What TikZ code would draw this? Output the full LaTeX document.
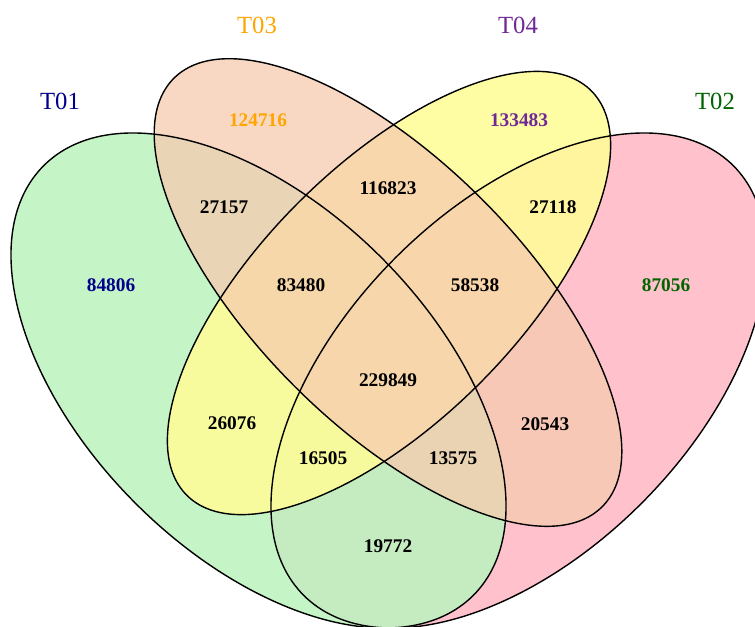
\documentclass[tikz,border=0pt]{standalone}
\usepackage{fontspec}
\setmainfont{Liberation Serif}
\definecolor{cOne}{RGB}{187,243,190}
\definecolor{cTwo}{RGB}{255,193,204}
\definecolor{cThree}{RGB}{246,203,175}
\definecolor{cFour}{RGB}{255,253,152}
\definecolor{tOne}{RGB}{0,0,139}
\definecolor{tTwo}{RGB}{0,100,0}
\definecolor{tThree}{RGB}{255,165,0}
\definecolor{tFour}{RGB}{112,40,150}
\tikzset{
  setlabel/.style={font=\fontsize{18.5}{20}\selectfont, inner sep=0pt},
  cnt/.style={font=\fontsize{14.5}{16}\selectfont\bfseries, inner sep=0pt},
  outline/.style={draw=black, line width=1.05pt},
}
\begin{document}
\begin{tikzpicture}[x=0.75pt,y=-0.75pt]
\useasboundingbox (0,0) rectangle (755,626);
\fill[white] (0,0) rectangle (755,626);
\begin{scope}
\clip (0,0) rectangle (755,626);
% fills
\fill[cTwo] [shift={(518.5,380.5)}, rotate=45] (0,0) ellipse [x radius=303.8, y radius=173.8];
\fill[cOne, fill opacity=0.85] [shift={(258.5,380.5)}, rotate=-45] (0,0) ellipse [x radius=303.8, y radius=173.8];
\fill[cFour, fill opacity=0.88] [shift={(389,293)}, rotate=45] (0,0) ellipse [x radius=286, y radius=128];
\fill[cThree, fill opacity=0.75] [shift={(388,292.5)}, rotate=-45] (0,0) ellipse [x radius=302.9, y radius=132.4];
% outlines
\draw[outline] [shift={(518.5,380.5)}, rotate=45] (0,0) ellipse [x radius=303.8, y radius=173.8];
\draw[outline] [shift={(258.5,380.5)}, rotate=-45] (0,0) ellipse [x radius=303.8, y radius=173.8];
\draw[outline] [shift={(389,293)}, rotate=45] (0,0) ellipse [x radius=286, y radius=128];
\draw[outline] [shift={(388,292.5)}, rotate=-45] (0,0) ellipse [x radius=302.9, y radius=132.4];
\end{scope}
% set labels
\node[setlabel, text=tOne] (l1) at (60,101) {T01};
\node[setlabel, text=tTwo] (l2) at (715,101) {T02};
\node[setlabel, text=tThree] (l3) at (257,25) {T03};
\node[setlabel, text=tFour] (l4) at (518,25) {T04};
% counts
\node[cnt, text=tThree] (n3) at (258,120) {124716};
\node[cnt, text=tFour] (n4) at (519,120) {133483};
\node[cnt, text=tOne] (n1) at (111,285) {84806};
\node[cnt, text=tTwo] (n2) at (666,285) {87056};
\node[cnt] (n13) at (224,207) {27157};
\node[cnt] (n34) at (388,188) {116823};
\node[cnt] (n24) at (553,207) {27118};
\node[cnt] (n134) at (301,285) {83480};
\node[cnt] (n234) at (475,285) {58538};
\node[cnt] (n1234) at (388,380) {229849};
\node[cnt] (n14) at (232,423) {26076};
\node[cnt] (n23) at (545,424) {20543};
\node[cnt] (n124) at (323,458) {16505};
\node[cnt] (n123) at (453,458) {13575};
\node[cnt] (n12) at (388,546) {19772};
\end{tikzpicture}
\end{document}
